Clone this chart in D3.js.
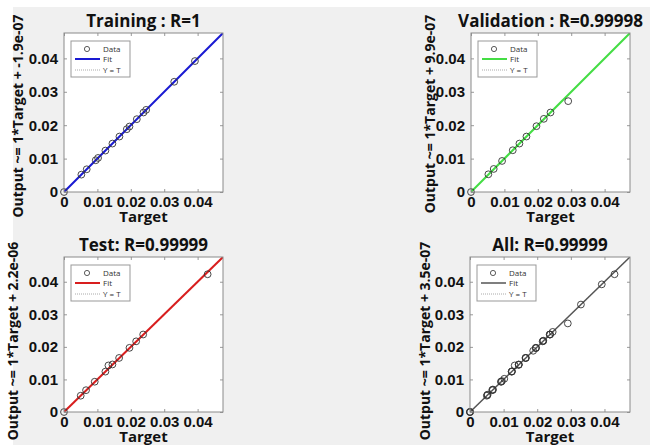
<!DOCTYPE html>
<html>
<head>
<meta charset="utf-8">
<script src="https://cdn.jsdelivr.net/npm/d3@7"></script>
<style>
body { margin: 0; background: #fff; }
svg { display: block; font-family: "Open Sans", "Noto Sans", sans-serif; }
</style>
</head>
<body>
<svg id="chart" width="650" height="445"></svg>
<script>
// values
const panelTitles = ['Training : R=1', 'Validation : R=0.99998', 'Test: R=0.99999', 'All: R=0.99999'];
const yLabels = [
    'Output ~= 1*Target + -1.9e-07',
    'Output ~= 1*Target + 9.9e-07',
    'Output ~= 1*Target + 2.2e-06',
    'Output ~= 1*Target + 3.5e-07'
];
const fitSlopes = [1, 1, 1, 1];
const fitIntercepts = [-1.9e-7, 9.9e-7, 2.2e-6, 3.5e-7];
const lineColors = ['#1a1ad2', '#44dd44', '#d81e1e', '#555555'];

const trainTargets = [0, 0.0052, 0.0068, 0.0095, 0.0102, 0.0124, 0.0145, 0.0166, 0.0188, 0.0196, 0.0218, 0.0238, 0.0246, 0.0330, 0.0392];
const trainOutputs = [0, 0.0052, 0.0068, 0.0095, 0.0102, 0.0124, 0.0145, 0.0166, 0.0188, 0.0196, 0.0218, 0.0238, 0.0246, 0.0330, 0.0392];
const valTargets = [0, 0.0052, 0.0068, 0.0093, 0.0125, 0.0145, 0.0166, 0.0196, 0.0218, 0.0238, 0.0291];
const valOutputs = [0, 0.0053, 0.0069, 0.0093, 0.0125, 0.0145, 0.0166, 0.0197, 0.0219, 0.0238, 0.0272];
const testTargets = [0, 0.0050, 0.0066, 0.0092, 0.0124, 0.0133, 0.0145, 0.0165, 0.0196, 0.0216, 0.0237, 0.0430];
const testOutputs = [0, 0.0050, 0.0067, 0.0093, 0.0124, 0.0143, 0.0146, 0.0166, 0.0197, 0.0217, 0.0238, 0.0423];

const tickValues = [0, 0.01, 0.02, 0.03, 0.04];
const tickLabels = ['0', '0.01', '0.02', '0.03', '0.04'];
const axisMax = 0.0476;
const legendLabels = ['Data', 'Fit', 'Y = T'];

const svg = d3.select('#chart');

// figure background
svg.append('rect')
    .attr('x', 13).attr('y', 7)
    .attr('width', 637).attr('height', 438)
    .attr('fill', '#f0f0f0');

const frames = [
    { left: 64, top: 33, w: 159, h: 159, labelX: 18, labelY: 116 },
    { left: 471, top: 33, w: 159, h: 159, labelX: 430, labelY: 114 },
    { left: 64, top: 257, w: 159, h: 155, labelX: 13, labelY: 341 },
    { left: 470, top: 257, w: 160, h: 155, labelX: 425, labelY: 341 }
];

const sets = [
    [trainTargets, trainOutputs],
    [valTargets, valOutputs],
    [testTargets, testOutputs],
    [trainTargets.concat(valTargets, testTargets), trainOutputs.concat(valOutputs, testOutputs)]
];

function drawPanel(i) {
    const f = frames[i];
    const [targets, outputs] = sets[i];
    const data = targets.map((t, k) => ({ t: t, o: outputs[k] }));

    const x = d3.scaleLinear().domain([0, axisMax]).range([0, f.w]);
    const y = d3.scaleLinear().domain([0, axisMax]).range([f.h, 0]);

    const g = svg.append('g')
        .attr('transform', `translate(${f.left}, ${f.top})`);

    g.append('rect')
        .attr('width', f.w).attr('height', f.h)
        .attr('fill', '#fff');

    g.append('clipPath').attr('id', 'clip' + i)
        .append('rect').attr('width', f.w).attr('height', f.h);

    const fmt = d => tickLabels[tickValues.indexOf(d)];

    const xAxis = g.append('g')
        .attr('transform', `translate(0,${f.h})`)
        .call(d3.axisBottom(x).tickValues(tickValues).tickSize(-3).tickPadding(4).tickFormat(fmt));
    const yAxis = g.append('g')
        .call(d3.axisLeft(y).tickValues(tickValues).tickSize(-3).tickPadding(6).tickFormat(fmt));
    g.append('g')
        .call(d3.axisTop(x).tickValues(tickValues).tickSize(-3).tickFormat(''));
    g.append('g')
        .attr('transform', `translate(${f.w},0)`)
        .call(d3.axisRight(y).tickValues(tickValues).tickSize(-3).tickFormat(''));

    g.selectAll('.domain').remove();
    g.selectAll('.tick line').attr('stroke', '#999');
    [xAxis, yAxis].forEach(a => a.selectAll('text')
        .attr('fill', '#111')
        .style('font-size', '15px')
        .style('font-weight', 'bold'));

    // Y = T reference
    g.append('line')
        .attr('clip-path', `url(#clip${i})`)
        .attr('x1', x(0)).attr('y1', y(0))
        .attr('x2', x(axisMax)).attr('y2', y(axisMax))
        .attr('stroke', '#aaa')
        .attr('stroke-dasharray', '1,2');

    // fit
    g.append('line')
        .attr('clip-path', `url(#clip${i})`)
        .attr('x1', x(0)).attr('y1', y(fitIntercepts[i]))
        .attr('x2', x(axisMax)).attr('y2', y(fitSlopes[i] * axisMax + fitIntercepts[i]))
        .attr('stroke', lineColors[i])
        .attr('stroke-width', i === 3 ? 1.5 : 2);

    g.selectAll('.pt')
        .data(data)
        .enter().append('circle')
        .attr('class', 'pt')
        .attr('cx', d => x(d.t))
        .attr('cy', d => y(d.o))
        .attr('r', 3.4)
        .attr('fill', 'none')
        .attr('stroke', '#333')
        .attr('stroke-width', 0.9);

    g.append('rect')
        .attr('width', f.w).attr('height', f.h)
        .attr('fill', 'none')
        .attr('stroke', '#8a8a8a');

    // legend
    const lg = g.append('g').attr('transform', 'translate(7,8)');
    lg.append('rect')
        .attr('width', 59).attr('height', 36)
        .attr('fill', '#fff')
        .attr('stroke', '#999');
    const rowY = [8, 18, 29];
    lg.append('circle')
        .attr('cx', 16).attr('cy', rowY[0])
        .attr('r', 2.6)
        .attr('fill', 'none').attr('stroke', '#333').attr('stroke-width', 0.8);
    lg.append('line')
        .attr('x1', 4).attr('x2', 29)
        .attr('y1', rowY[1]).attr('y2', rowY[1])
        .attr('stroke', lineColors[i])
        .attr('stroke-width', i === 3 ? 1.5 : 2);
    lg.append('line')
        .attr('x1', 4).attr('x2', 29)
        .attr('y1', rowY[2]).attr('y2', rowY[2])
        .attr('stroke', '#aaa')
        .attr('stroke-dasharray', '1,1');
    lg.selectAll('.lt')
        .data(legendLabels)
        .enter().append('text')
        .attr('x', 32)
        .attr('y', (d, k) => rowY[k])
        .attr('dy', '0.35em')
        .style('font-size', '8px')
        .attr('fill', '#333')
        .text(d => d);

    // title and axis labels
    g.append('text')
        .attr('x', f.w / 2).attr('y', -6)
        .attr('text-anchor', 'middle')
        .style('font-size', '17px')
        .style('font-weight', 'bold')
        .attr('fill', '#111')
        .text(panelTitles[i]);

    g.append('text')
        .attr('x', f.w / 2).attr('y', f.h + 30)
        .attr('text-anchor', 'middle')
        .style('font-size', '15px')
        .style('font-weight', 'bold')
        .attr('fill', '#111')
        .text('Target');

    svg.append('text')
        .attr('transform', `translate(${f.labelX},${f.labelY}) rotate(-90)`)
        .attr('text-anchor', 'middle')
        .attr('dy', '0.35em')
        .style('font-size', '14px')
        .style('font-weight', 'bold')
        .attr('fill', '#111')
        .text(yLabels[i]);
}

d3.range(4).forEach(drawPanel);
</script>
</body>
</html>
